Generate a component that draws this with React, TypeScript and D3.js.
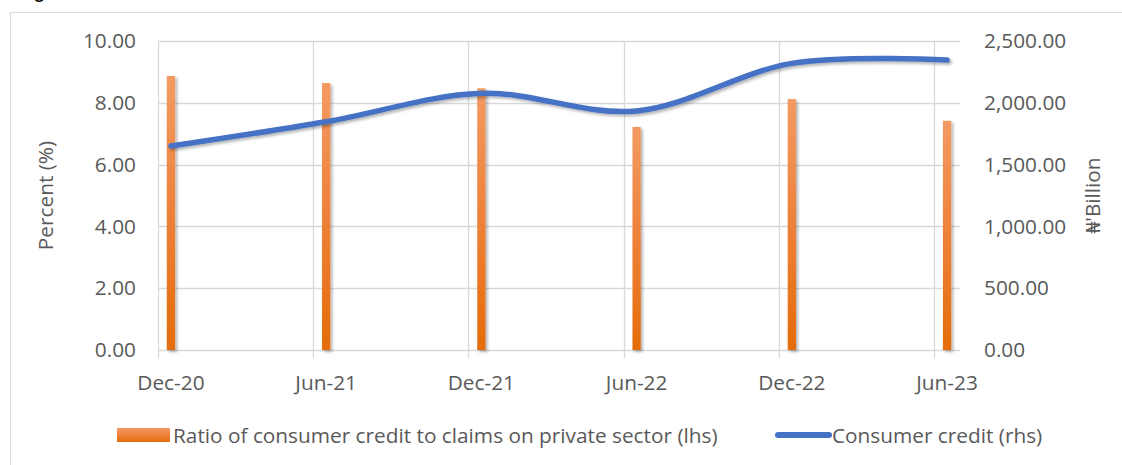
import React from "react";
import * as d3 from "d3";

const categories = ["Dec-20", "Jun-21", "Dec-21", "Jun-22", "Dec-22", "Jun-23"];
const ratioValues = [8.87, 8.64, 8.47, 7.22, 8.12, 7.42];
const creditValues = [1650, 1847, 2077, 1934, 2319, 2346];
const leftTicks = [0, 2, 4, 6, 8, 10];
const rightTicks = [0, 500, 1000, 1500, 2000, 2500];

const W = 1122;
const H = 465;
const FONT = "'Open Sans', 'Noto Sans', sans-serif";
const FS = 20.8;
const TXT = "#595959";
const GRID = "#D9D9D9";

const fmtMonth = d3.timeFormat("%b-%y");
const months = d3.timeMonth.range(new Date(2020, 11, 1), new Date(2023, 6, 1)).map(fmtMonth);

export default function App() {
  const x = d3.scaleBand<string>().domain(months).range([158, 960]).paddingInner(0).paddingOuter(0);
  const yL = d3.scaleLinear().domain([0, 10]).range([350, 41]);
  const yR = d3.scaleLinear().domain([0, 2500]).range([350, 41]);
  const bw = x.bandwidth();
  const cx = (c: string) => (x(c) as number) + bw / 2;
  const barW = bw * 0.32;

  const line = d3
    .line<number>()
    .x((_, i) => cx(categories[i]))
    .y((d) => yR(d))
    .curve(d3.curveCardinal.tension(0));

  const fmt2 = d3.format(",.2f");

  return (
    <svg width={W} height={H} style={{ position: "absolute", left: 0, top: 0, background: "#fff" }} fontFamily={FONT}>
      <defs>
        <linearGradient id="barGrad" x1="0" y1="0" x2="0" y2="1">
          <stop offset="0" stopColor="#F39A62" />
          <stop offset="0.5" stopColor="#EE8139" />
          <stop offset="1" stopColor="#E46C0A" />
        </linearGradient>
        <filter id="shadow" x="-50%" y="-10%" width="200%" height="130%">
          <feDropShadow dx="2" dy="2" stdDeviation="1.8" floodColor="#000" floodOpacity="0.3" />
        </filter>
      </defs>
      <rect x={0} y={0} width={W} height={H} fill="#fff" />
      {/* cut-off title fragment */}
      <text x={15} y={-3} fontSize={22} fill="#000" fontFamily="'Liberation Sans', sans-serif">Figure</text>
      {/* chart border */}
      <rect x={10.5} y={12.5} width={W + 20} height={H + 20} fill="none" stroke={GRID} strokeWidth={1} />

      {/* horizontal gridlines */}
      {leftTicks.map((t) => (
        <line key={"h" + t} x1={158} x2={960} y1={Math.round(yL(t)) + 0.5} y2={Math.round(yL(t)) + 0.5} stroke={GRID} strokeWidth={1.3} />
      ))}
      {/* vertical gridlines + tick marks */}
      {categories.map((c) => {
        const xx = Math.round(x(c) as number) + 0.5;
        return <line key={"v" + c} x1={xx} x2={xx} y1={41} y2={358} stroke={GRID} strokeWidth={1.3} />;
      })}

      {/* bars */}
      {ratioValues.map((v, i) => (
        <rect
          key={"b" + i}
          x={cx(categories[i]) - barW / 2}
          y={yL(v)}
          width={barW}
          height={yL(0) - yL(v)}
          fill="url(#barGrad)"
          filter="url(#shadow)"
        />
      ))}

      {/* line */}
      <path d={line(creditValues) || ""} fill="none" stroke="#4472C4" strokeWidth={5.5} strokeLinecap="round" strokeLinejoin="round" filter="url(#shadow)" />

      {/* left tick labels */}
      {leftTicks.map((t) => (
        <text key={"l" + t} x={136} y={yL(t)} dy="0.35em" textAnchor="end" fontSize={FS} fill={TXT}>
          {t.toFixed(2)}
        </text>
      ))}
      {/* right tick labels */}
      {rightTicks.map((t) => (
        <text key={"r" + t} x={984} y={yR(t)} dy="0.35em" textAnchor="start" fontSize={FS} fill={TXT}>
          {fmt2(t)}
        </text>
      ))}
      {/* category labels */}
      {categories.map((c) => (
        <text key={"c" + c} x={cx(c)} y={389.5} textAnchor="middle" fontSize={FS} fill={TXT}>
          {c}
        </text>
      ))}

      {/* axis titles */}
      <text transform="translate(52.5,195.5) rotate(-90)" textAnchor="middle" fontSize={FS} fill={TXT}>
        Percent (%)
      </text>
      <text transform="translate(1099.5,195.5) rotate(-90)" textAnchor="middle" fontSize={FS} fill={TXT}>
        ₦'Billion
      </text>

      {/* legend */}
      <rect x={117} y={428} width={53} height={14} fill="url(#barGrad)" />
      <text x={173} y={442.5} fontSize={FS} fill={TXT}>
        Ratio of consumer credit to claims on private sector (lhs)
      </text>
      <line x1={778} x2={829} y1={435} y2={435} stroke="#4472C4" strokeWidth={6} strokeLinecap="round" />
      <text x={832} y={442.5} fontSize={FS} fill={TXT}>
        Consumer credit (rhs)
      </text>
    </svg>
  );
}
